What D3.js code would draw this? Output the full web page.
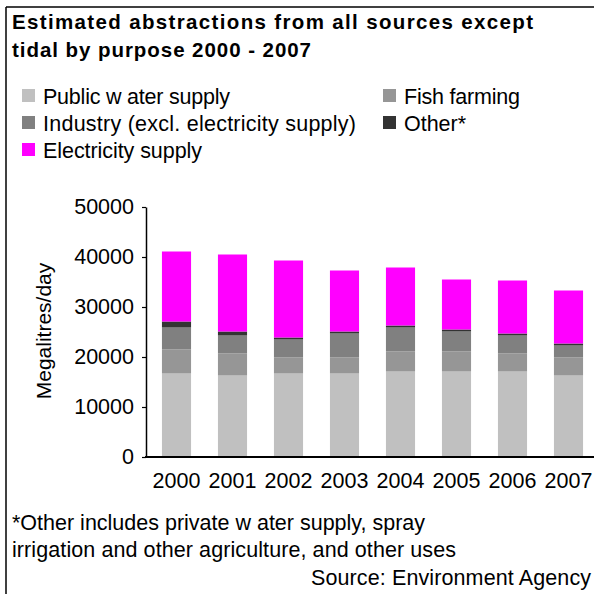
<!DOCTYPE html>
<html><head><meta charset="utf-8">
<script src="https://cdn.jsdelivr.net/npm/d3@7"></script>
<style>body{margin:0;background:#fff}svg{display:block}text{font-family:"Liberation Sans",Arial,sans-serif;fill:#000}</style>
</head><body>
<script>
const years = ["2000","2001","2002","2003","2004","2005","2006","2007"];
const publicWater = [16700,16300,16700,16700,17100,17100,17100,16300];
const fishFarming = [4800,4400,3200,3200,4000,4000,3600,3600];
const industry    = [4400,3600,3600,4800,4800,4000,3600,2400];
const other       = [1200,800,400,400,400,400,400,400];
const electricity = [14000,15400,15400,12200,11600,10000,10600,10600];
const seriesNames = ["Public w ater supply","Fish farming","Industry (excl. electricity supply)","Other*","Electricity supply"];
const seriesColors = ["#c0c0c0","#969696","#808080","#333333","#ff00ff"];
const yTicks = [0,10000,20000,30000,40000,50000];

const W=594,H=594;
const svg=d3.select("body").append("svg").attr("width",W).attr("height",H);
// frame
svg.append("line").attr("x1",6).attr("x2",W).attr("y1",7).attr("y2",7).attr("stroke","#000").attr("stroke-width",1.5);
svg.append("line").attr("x1",6).attr("x2",6).attr("y1",7).attr("y2",H).attr("stroke","#000").attr("stroke-width",1.5);

function txt(x,y,s,size,len,opts={}){
  const t=svg.append("text").attr("x",x).attr("y",y).attr("font-size",size).text(s);
  if(len) t.attr("textLength",len).attr("lengthAdjust","spacing");
  if(opts.bold) t.attr("font-weight","bold");
  if(opts.anchor) t.attr("text-anchor",opts.anchor);
  return t;
}
// title
txt(12,29,"Estimated abstractions from all sources except",20.5,521,{bold:true});
txt(12,57,"tidal by purpose 2000 - 2007",20.5,299,{bold:true});

// legend
const legPos=[[22,96],[383,96],[22,123],[383,123],[22,150]];
const legLen=[187,116,313,62,159];
seriesNames.forEach((n,i)=>{
  const [lx,ly]=legPos[i];
  svg.append("rect").attr("x",lx).attr("y",ly-7).attr("width",13).attr("height",13).attr("fill",seriesColors[i]);
  txt(lx+21,ly+7.5,n,21.5,legLen[i]);
});

const data=years.map((y,i)=>({year:y,s0:publicWater[i],s1:fishFarming[i],s2:industry[i],s3:other[i],s4:electricity[i]}));
const stack=d3.stack().keys(["s0","s1","s2","s3","s4"])(data);

const x=d3.scaleBand().domain(years).range([148.5,596.5]).paddingInner(0.48).paddingOuter(0.24);
const y=d3.scaleLinear().domain([0,50000]).range([457,207]);

const g=svg.append("g");
stack.forEach((layer,li)=>{
  g.selectAll(null).data(layer).enter().append("rect")
    .attr("x",d=>x(d.data.year)).attr("width",x.bandwidth())
    .attr("y",d=>y(d[1])).attr("height",d=>y(d[0])-y(d[1]))
    .attr("fill",seriesColors[li]);
});

// y axis
const yAxis=d3.axisLeft(y).tickValues(yTicks).tickSize(4).tickSizeOuter(0).tickPadding(8).tickFormat(d3.format("d"));
const ya=svg.append("g").attr("transform","translate(146,0)").call(yAxis);
ya.select(".domain").attr("stroke","#000").attr("stroke-width",1.5);
ya.selectAll(".tick line").attr("stroke","#000").attr("stroke-width",1.2);
ya.selectAll("text").attr("font-size",21.5).attr("font-family","Liberation Sans, Arial, sans-serif").attr("fill","#000");

// x axis
const xAxis=d3.axisBottom(x).tickSize(0).tickPadding(16);
const xa=svg.append("g").attr("transform","translate(0,457)").call(xAxis);
xa.select(".domain").remove();
svg.append("line").attr("x1",145).attr("x2",594).attr("y1",457).attr("y2",457).attr("stroke","#000").attr("stroke-width",2);
xa.selectAll("text").attr("font-size",21.5).attr("font-family","Liberation Sans, Arial, sans-serif").attr("fill","#000");

// y label
svg.append("text").attr("transform","translate(51,331) rotate(-90)").attr("text-anchor","middle").attr("font-size",21).text("Megalitres/day");

// footnotes
txt(12,530,"*Other includes private w ater supply, spray",21.5,413);
txt(12,557,"irrigation and other agriculture, and other uses",21.5,444);
txt(311,585,"Source: Environment Agency",21.5,280);
</script>
</body></html>
